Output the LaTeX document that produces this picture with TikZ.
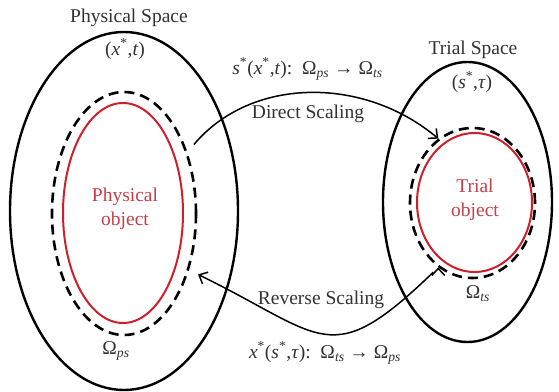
\documentclass[tikz,border=0pt]{standalone}
\usepackage{fontspec}
\setmainfont{Liberation Serif}
\usepackage{tikz}
\usetikzlibrary{
    shapes.geometric,
    arrows.meta
}
\definecolor{objred}{RGB}{205,32,42}
\definecolor{objtext}{RGB}{196,62,72}
\definecolor{inkgray}{RGB}{50,50,50}
\tikzset{
    >={Straight Barb[length=7pt,width=13pt]},
    spacebound/.style={
        ellipse,
        draw,
        line width=2.4pt,
        inner sep=0pt
    },
    layerbound/.style={
        ellipse,
        draw,
        line width=2.6pt,
        dash pattern=on 10pt off 6pt,
        inner sep=0pt
    },
    objbound/.style={
        ellipse,
        draw=objred,
        line width=2pt,
        inner sep=0pt
    },
    lbl/.style={
        font=\fontsize{19.5}{23}\selectfont,
        text=inkgray,
        inner sep=1pt
    },
    objlbl/.style={
        lbl,
        text=objtext,
        align=center,
        font=\fontsize{19.5}{24}\selectfont
    }
}

\begin{document}
\begin{tikzpicture}[
    x=1pt,
    y=1pt,
    map/.style={->, line width=1.5pt, draw=black}
]
    \useasboundingbox (0,0) rectangle (559,391);

    % Espacio fisico
    \node[spacebound, minimum width=228pt, minimum height=358pt] (physS) at (124,180)   {};
    \node[layerbound, minimum width=144pt, minimum height=243pt] (dashL) at (124,177.5) {};
    \node[objbound,   minimum width=120pt, minimum height=220pt] (redL)  at (123,178)   {};

    % Espacio de prueba
    \node[spacebound, minimum width=169pt, minimum height=280pt] (trialS) at (467.5,189) {};
    \node[layerbound, minimum width=125pt, minimum height=150pt] (dashR)  at (472.5,188) {};
    \node[objbound,   minimum width=115pt, minimum height=139pt] (redR)   at (474.5,188.5) {};

    % Textos
    \node[lbl]    (physname)  at (129,373)   {Physical Space};
    \node[lbl]    (physvar)   at (125,342)   {(\textit{x}\textsuperscript{*},\textit{t})};
    \node[objlbl] (physobj)   at (125,182)   {Physical\\object};
    \node[lbl]    (omegaps)   at (116,40)    {Ω\textsubscript{\textit{ps}}};

    \node[lbl]    (trialname) at (473,341.5) {Trial Space};
    \node[lbl]    (trialvar)  at (472,309)   {(\textit{s}\textsuperscript{*},\textit{τ})};
    \node[objlbl] (trialobj)  at (475,191.5) {Trial\\object};
    \node[lbl]    (omegats)   at (478,97)    {Ω\textsubscript{\textit{ts}}};

    \node[lbl] (dirmap)  at (307.5,322) {\textit{s}\textsuperscript{*}(\textit{x}\textsuperscript{*},\textit{t}):\, Ω\textsubscript{\textit{ps}} → Ω\textsubscript{\textit{ts}}};
    \node[lbl] (dirname) at (308,277.5) {Direct Scaling};
    \node[lbl] (revname) at (321,91)    {Reverse Scaling};
    \node[lbl] (revmap)  at (325,38)    {\textit{x}\textsuperscript{*}(\textit{s}\textsuperscript{*},\textit{τ}):\, Ω\textsubscript{\textit{ts}} → Ω\textsubscript{\textit{ps}}};

    % Escalados
    \path[map]
        (dashL.44)
            edge[out=50, in=140, shorten <=10pt] (dashR.118)
        (dashR.242)
            edge[out=224, in=334, looseness=1.55,
                 shorten <=7pt, shorten >=10pt] (dashL.-41);

\end{tikzpicture}
\end{document}
